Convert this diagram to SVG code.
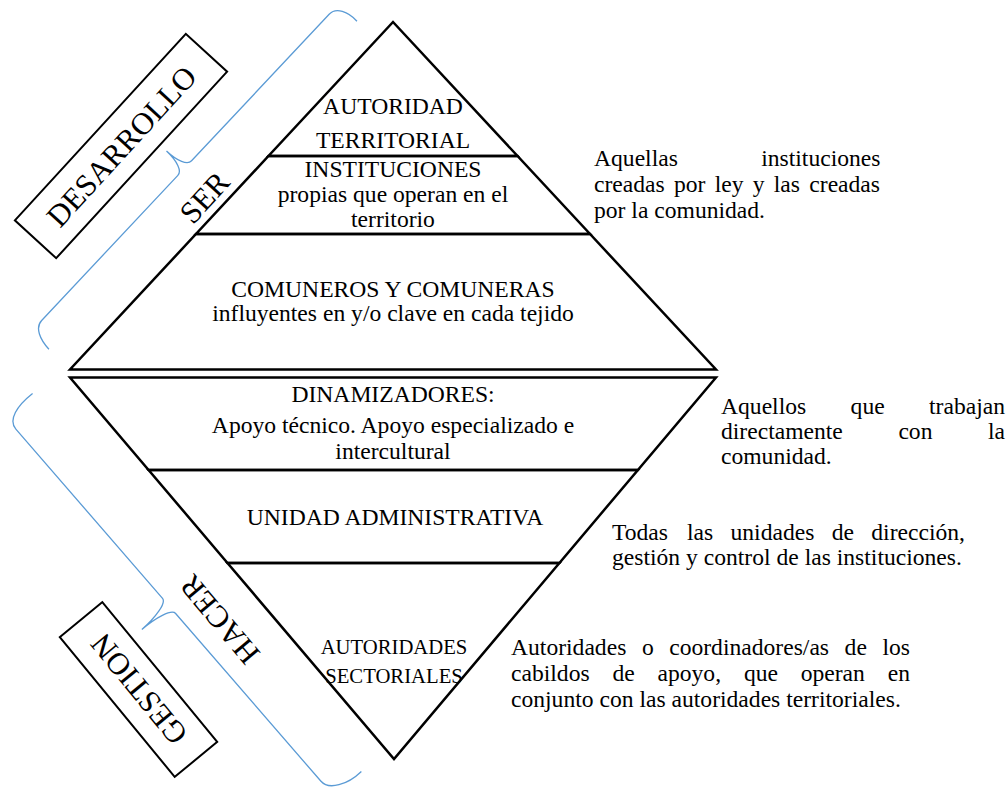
<svg xmlns="http://www.w3.org/2000/svg" width="1008" height="792" viewBox="0 0 1008 792">
<style>
.tx{font-family:"Liberation Serif","Times New Roman",serif;font-size:23.6px;fill:#000}
.c{text-anchor:middle}
.big{font-size:31px}
.sm{font-size:20.7px}
.ln{fill:none;stroke:#000;stroke-width:2.5;stroke-linejoin:miter}
.br{fill:none;stroke:#5B9BD5;stroke-width:1.3}
.box{fill:#fff;stroke:#000;stroke-width:2}
</style>
<rect width="1008" height="792" fill="#fff"/>

<g id="connectors">
  <path id="brace-ser" class="br" transform="translate(336,7) rotate(43.2)" d="M25,-4 C12,-5 0,0 0,10 L0,211 C0,217 -10,221 -25,221 C-10,221 0,225 0,231 L0,430 C0,440 12,445 25,446"/>
  <path id="brace-hacer" class="br" transform="translate(8,420) rotate(-40.9)" d="M36,-4 C16,-5 0,0 0,12 L0,236 C0,242 -18,246 -36,246 C-18,246 0,250 0,256 L0,478 C0,490 18,498 37,497"/>
</g>

<g id="layer-autoridad-territorial">
  <polygon class="ln" points="393,22 268.5,156 517.5,156"/>
  <text class="tx c" x="393" y="114">AUTORIDAD</text>
  <text class="tx c" x="393" y="148">TERRITORIAL</text>
</g>
<g id="layer-instituciones">
  <polygon class="ln" points="268.5,156 517.5,156 590,234 196,234"/>
  <text class="tx c" x="393" y="177">INSTITUCIONES</text>
  <text class="tx c" x="393" y="202">propias que operan en el</text>
  <text class="tx c" x="393" y="227">territorio</text>
</g>
<g id="layer-comuneros">
  <polygon class="ln" points="196,234 590,234 716,369.5 70,369.5"/>
  <text class="tx c" x="393" y="297">COMUNEROS Y COMUNERAS</text>
  <text class="tx c" x="393" y="321">influyentes en y/o clave en cada tejido</text>
</g>
<g id="layer-dinamizadores">
  <polygon class="ln" points="70,377.5 716,377.5 637.9,470 148.6,470"/>
  <text class="tx c" x="393" y="402">DINAMIZADORES:</text>
  <text class="tx c" x="393" y="433">Apoyo técnico. Apoyo especializado e</text>
  <text class="tx c" x="393" y="459">intercultural</text>
</g>
<g id="layer-unidad">
  <polygon class="ln" points="148.6,470 637.9,470 559.4,563 227.5,563"/>
  <text class="tx c" x="395" y="525">UNIDAD ADMINISTRATIVA</text>
</g>
<g id="layer-sectoriales">
  <polygon class="ln" points="227.5,563 559.4,563 394,759"/>
  <text class="tx c sm" x="394" y="654">AUTORIDADES</text>
  <text class="tx c sm" x="394" y="683">SECTORIALES</text>
</g>

<g id="label-desarrollo" transform="translate(121,146) rotate(-47.5)">
  <rect class="box" x="-126.5" y="-28" width="253" height="56"/>
  <text class="tx c big" x="0" y="11">DESARROLLO</text>
</g>
<g id="label-ser" transform="translate(204,197) rotate(-47.5)">
  <text class="tx c big" x="0" y="11">SER</text>
</g>
<g id="label-hacer" transform="translate(219,620) rotate(230)">
  <text class="tx c big" x="0" y="11">HACER</text>
</g>
<g id="label-gestion" transform="translate(138.5,689.5) rotate(230.6)">
  <rect class="box" x="-90.5" y="-27.5" width="181" height="55"/>
  <text class="tx c big" x="0" y="11">GESTION</text>
</g>

<g id="note-instituciones">
  <text class="tx"><tspan x="594" y="166">Aquellas</tspan><tspan x="761.2" y="166">instituciones</tspan></text>
  <text class="tx"><tspan x="594" y="192">creadas</tspan><tspan x="674" y="192">por</tspan><tspan x="714.7" y="192">ley</tspan><tspan x="752.8" y="192">y</tspan><tspan x="773.8" y="192">las</tspan><tspan x="809.3" y="192">creadas</tspan></text>
  <text class="tx" x="594" y="218">por la comunidad.</text>
</g>
<g id="note-dinamizadores">
  <text class="tx"><tspan x="721" y="414">Aquellos</tspan><tspan x="850.6" y="414">que</tspan><tspan x="929" y="414">trabajan</tspan></text>
  <text class="tx"><tspan x="721" y="439">directamente</tspan><tspan x="898.4" y="439">con</tspan><tspan x="988" y="439">la</tspan></text>
  <text class="tx" x="721" y="464">comunidad.</text>
</g>
<g id="note-unidad">
  <text class="tx"><tspan x="612" y="540">Todas</tspan><tspan x="687" y="540">las</tspan><tspan x="730.5" y="540">unidades</tspan><tspan x="831.7" y="540">de</tspan><tspan x="871.3" y="540">dirección,</tspan></text>
  <text class="tx" x="612" y="565">gestión y control de las instituciones.</text>
</g>
<g id="note-sectoriales">
  <text class="tx"><tspan x="511" y="655">Autoridades</tspan><tspan x="641.9" y="655">o</tspan><tspan x="669.2" y="655">coordinadores/as</tspan><tspan x="844.6" y="655">de</tspan><tspan x="882.4" y="655">los</tspan></text>
  <text class="tx"><tspan x="511" y="681">cabildos</tspan><tspan x="612.5" y="681">de</tspan><tspan x="657.5" y="681">apoyo,</tspan><tspan x="743.9" y="681">que</tspan><tspan x="800.7" y="681">operan</tspan><tspan x="887.7" y="681">en</tspan></text>
  <text class="tx" x="511" y="707">conjunto con las autoridades territoriales.</text>
</g>
</svg>
